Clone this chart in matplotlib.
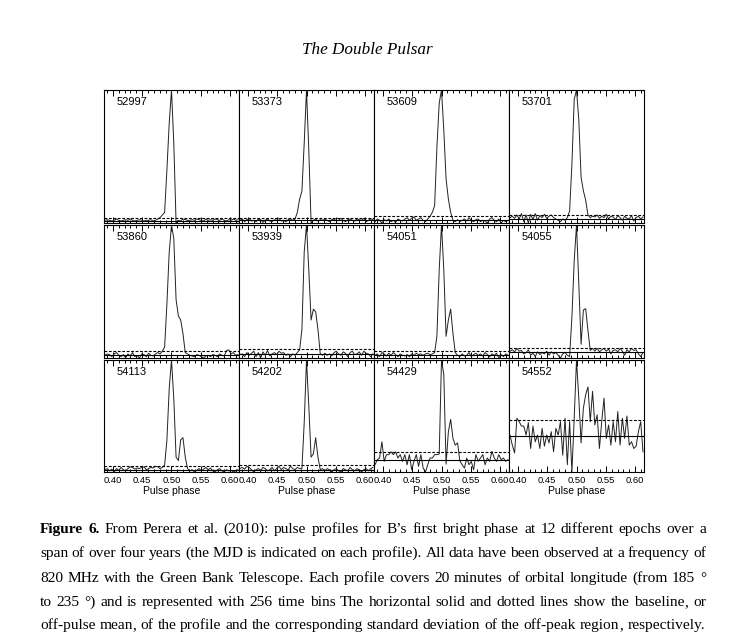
import numpy as np
import matplotlib.pyplot as plt
from matplotlib.ticker import MultipleLocator, FormatStrFormatter

# phase bins shown in every panel (256 bins per turn, bins 99..157)
bins = np.arange(99, 158)
phase = bins / 256.0

mjd = ['52997', '53373', '53609', '53701',
       '53860', '53939', '54051', '54055',
       '54113', '54202', '54429', '54552']

# profiles, normalised to the peak
p52997 = [0.02, 0.025, 0.02, 0.015, 0.02, 0.03, 0.02, 0.015, 0.02, 0.025, 0.02, 0.03,
          0.02, 0.015, 0.02, 0.025, 0.02, 0.015, 0.02, 0.02, 0.025, 0.015, 0.02, 0.03,
          0.04, 0.06, 0.08, 0.40, 0.75, 1.0, 0.60, 0.0, 0.02, 0.015, 0.03, 0.025, 0.02,
          0.02, 0.025, 0.02, 0.03, 0.025, 0.02, 0.015, 0.03, 0.02, 0.025, 0.02, 0.03,
          0.025, 0.02, 0.03, 0.02, 0.015, 0.025, 0.02, 0.03, 0.02, 0.025]
p53373 = [0.02, 0.03, 0.01, 0.025, 0.035, 0.015, 0.02, 0.01, 0.03, 0.025, 0.005, 0.02,
          0.03, 0.015, 0.01, 0.025, 0.02, 0.035, 0.015, 0.02, 0.01, 0.025, 0.03, 0.02,
          0.03, 0.08, 0.18, 0.24, 0.60, 1.0, 0.55, 0.0, 0.02, 0.03, 0.015, 0.025, 0.02,
          0.03, 0.02, 0.01, 0.025, 0.03, 0.015, 0.02, 0.035, 0.02, 0.01, 0.025, 0.03,
          0.02, 0.015, 0.03, 0.025, 0.02, 0.035, 0.01, 0.02, 0.03, 0.025]
p53609 = [0.01, 0.03, 0.02, 0.0, 0.025, 0.015, 0.03, 0.01, 0.02, 0.005, 0.03, 0.02,
          0.015, 0.03, 0.04, 0.02, 0.035, 0.045, 0.02, 0.03, 0.04, 0.02, 0.01, 0.03,
          0.05, 0.08, 0.13, 0.57, 0.90, 1.0, 0.70, 0.33, 0.18, 0.08, 0.02, 0.01, 0.025,
          0.01, 0.02, 0.03, 0.015, 0.04, 0.02, 0.01, 0.025, 0.03, 0.01, 0.02, 0.015,
          0.0, 0.03, 0.04, 0.02, 0.01, 0.03, 0.0, 0.02, 0.01, 0.02]
p53701 = [0.05, 0.06, 0.045, 0.07, 0.04, 0.08, 0.02, 0.07, 0.01, 0.075, 0.035, 0.08,
          0.03, 0.065, 0.05, 0.075, 0.045, 0.06, 0.07, 0.05, 0.04, 0.03, 0.02, 0.04,
          0.03, 0.05, 0.10, 0.45, 0.93, 1.0, 0.78, 0.35, 0.25, 0.18, 0.07, 0.05, 0.06,
          0.055, 0.07, 0.045, 0.06, 0.05, 0.075, 0.04, 0.06, 0.055, 0.035, 0.065, 0.05,
          0.03, 0.06, 0.045, 0.04, 0.065, 0.025, 0.05, 0.06, 0.04, 0.055]
p53860 = [0.04, 0.05, 0.045, 0.03, 0.05, 0.06, 0.04, 0.03, 0.045, 0.02, 0.05, 0.035,
          0.06, 0.03, 0.04, 0.02, 0.05, 0.045, 0.03, 0.055, 0.04, 0.035, 0.05, 0.06,
          0.05, 0.07, 0.10, 0.42, 0.80, 1.0, 0.90, 0.45, 0.33, 0.30, 0.20, 0.06, 0.05,
          0.04, 0.035, 0.03, 0.045, 0.04, 0.03, 0.02, 0.035, 0.04, 0.03, 0.045, 0.04,
          0.03, 0.05, 0.04, 0.035, 0.075, 0.08, 0.05, 0.06, 0.04, 0.045]
p53939 = [0.045, 0.05, 0.03, 0.06, 0.04, 0.055, 0.07, 0.03, 0.06, 0.02, 0.065, 0.04,
          0.075, 0.035, 0.05, 0.06, 0.045, 0.07, 0.055, 0.06, 0.04, 0.05, 0.03, 0.05,
          0.04, 0.06, 0.08, 0.23, 0.80, 1.0, 0.67, 0.30, 0.38, 0.36, 0.23, 0.05, 0.04,
          0.055, 0.04, 0.05, 0.035, 0.06, 0.07, 0.05, 0.04, 0.065, 0.055, 0.03, 0.06,
          0.07, 0.045, 0.05, 0.065, 0.04, 0.07, 0.055, 0.05, 0.03, 0.05]
p54051 = [0.04, 0.05, 0.03, 0.06, 0.05, 0.035, 0.055, 0.04, 0.06, 0.045, 0.03, 0.05,
          0.04, 0.035, 0.045, 0.03, 0.05, 0.04, 0.055, 0.045, 0.05, 0.04, 0.05, 0.055,
          0.045, 0.05, 0.06, 0.18, 0.67, 1.0, 0.67, 0.18, 0.30, 0.38, 0.20, 0.06, 0.04,
          0.03, 0.05, 0.035, 0.04, 0.06, 0.03, 0.045, 0.055, 0.04, 0.05, 0.035, 0.06,
          0.045, 0.03, 0.05, 0.04, 0.055, 0.02, 0.045, 0.03, 0.05, 0.04]
p54055 = [0.08, 0.09, 0.075, 0.1, 0.08, 0.085, 0.06, 0.07, 0.09, 0.05, 0.065, 0.04,
          0.075, 0.055, 0.07, 0.06, 0.08, 0.05, 0.075, 0.06, 0.07, 0.05, 0.03, 0.06,
          0.07, 0.05, 0.04, 0.33, 0.74, 1.0, 0.57, 0.13, 0.38, 0.39, 0.23, 0.085, 0.1,
          0.08, 0.1, 0.075, 0.09, 0.1, 0.08, 0.095, 0.06, 0.085, 0.09, 0.075, 0.1,
          0.08, 0.05, 0.09, 0.075, 0.1, 0.085, 0.09, 0.06, 0.04, 0.07]
p54113 = [0.04, 0.05, 0.03, 0.045, 0.02, 0.05, 0.035, 0.06, 0.04, 0.03, 0.05, 0.065,
          0.06, 0.045, 0.055, 0.05, 0.06, 0.065, 0.04, 0.05, 0.06, 0.055, 0.07, 0.065,
          0.05, 0.06, 0.08, 0.30, 0.75, 1.0, 0.66, 0.15, 0.12, 0.30, 0.32, 0.15, 0.05,
          0.03, 0.04, 0.02, 0.035, 0.05, 0.03, 0.045, 0.06, 0.04, 0.055, 0.03, 0.02,
          0.04, 0.05, 0.03, 0.02, 0.04, 0.03, 0.035, 0.02, 0.03, 0.04]
p54202 = [0.05, 0.06, 0.045, 0.07, 0.06, 0.04, 0.02, 0.04, 0.05, 0.03, 0.06, 0.05,
          0.03, 0.04, 0.06, 0.03, 0.05, 0.07, 0.04, 0.06, 0.05, 0.04, 0.07, 0.05,
          0.04, 0.06, 0.05, 0.05, 0.45, 1.0, 0.60, 0.15, 0.18, 0.32, 0.15, 0.04, 0.05,
          0.03, 0.05, 0.04, 0.02, 0.04, 0.05, 0.03, 0.02, 0.05, 0.04, 0.03, 0.06,
          0.04, 0.03, 0.05, 0.04, 0.02, 0.04, 0.05, 0.03, 0.05, 0.06]
p54429 = [0.065, 0.11, 0.125, 0.27, 0.095, 0.155, 0.155, 0.18, 0.155, 0.18, 0.125, 0.155,
          0.095, 0.155, 0.065, 0.155, 0.02, 0.095, 0.155, 0.05, 0.155, 0.035, 0.0, 0.065,
          0.125, 0.125, 0.155, 0.155, 0.16, 1.0, 0.87, 0.07, 0.36, 0.47, 0.30, 0.24, 0.26,
          0.10, 0.065, 0.035, 0.125, 0.065, 0.095, 0.02, 0.155, 0.095, 0.125, 0.155, 0.065,
          0.125, 0.095, 0.185, 0.125, 0.095, 0.155, 0.11, 0.125, 0.095, 0.11]
p54552 = [0.33, 0.24, 0.17, 0.48, 0.45, 0.41, 0.41, 0.33, 0.44, 0.21, 0.41, 0.27,
          0.33, 0.21, 0.39, 0.23, 0.33, 0.26, 0.36, 0.18, 0.39, 0.33, 0.45, 0.15,
          0.48, 0.065, 0.45, 0.0, 0.48, 1.0, 0.66, 0.26, 0.57, 0.69, 0.76, 0.45, 0.72,
          0.42, 0.51, 0.21, 0.45, 0.66, 0.30, 0.42, 0.24, 0.45, 0.27, 0.54, 0.24,
          0.48, 0.30, 0.50, 0.24, 0.27, 0.21, 0.23, 0.36, 0.45, 0.18]

profiles = [p52997, p53373, p53609, p53701, p53860, p53939,
            p54051, p54055, p54113, p54202, p54429, p54552]

# off-pulse mean (solid) and mean + std of the off-peak region (dotted)
base_mean = [0.017, 0.02, 0.025, 0.042, 0.04, 0.05, 0.04, 0.073, 0.036, 0.04, 0.11, 0.32]
base_sig = [0.035, 0.037, 0.055, 0.072, 0.068, 0.085, 0.068, 0.105, 0.074, 0.08, 0.18, 0.46]

caption = [
    "Figure 6. From Perera et al. (2010): pulse profiles for B\u2019s first bright phase at 12 different epochs over a",
    "span of over four years (the MJD is indicated on each profile). All data have been observed at a frequency of",
    "820 MHz with the Green Bank Telescope. Each profile covers 20 minutes of orbital longitude (from 185 \u00b0",
    "to 235 \u00b0) and is represented with 256 time bins The horizontal solid and dotted lines show the baseline, or",
    "off-pulse mean, of the profile and the corresponding standard deviation of the off-peak region, respectively.",
]

W, H = 755, 635
fig = plt.figure(figsize=(W / 100, H / 100), dpi=100)
fig.patch.set_facecolor('white')

# panel grid in pixels
col_x = [104, 239, 374, 509]
col_w = 135
rows = [(90, 223), (225, 358), (360, 472)]

for k in range(12):
    r, c = divmod(k, 4)
    top, bot = rows[r]
    ax = fig.add_axes([col_x[c] / W, 1 - bot / H, col_w / W, (bot - top) / H])
    y = np.array(profiles[k])
    ax.plot(phase, y, color='#222222', lw=0.7)
    ax.axhline(base_mean[k], color='black', lw=0.8)
    ax.axhline(base_sig[k], color='black', lw=0.8, ls=(0, (2.5, 1.5)))
    ax.set_xlim(0.385, 0.615)
    ax.set_ylim(y.min(), y.max())
    ax.set_yticks([])
    ax.xaxis.set_major_locator(MultipleLocator(0.05))
    ax.xaxis.set_minor_locator(MultipleLocator(0.01))
    ax.xaxis.set_major_formatter(FormatStrFormatter('%.2f'))
    ax.tick_params(axis='x', which='major', direction='in', top=True, bottom=True,
                   length=4, width=0.7, labelsize=6.8, pad=3)
    ax.tick_params(axis='x', which='minor', direction='in', top=True, bottom=True,
                   length=2.5, width=0.7)
    for sp in ax.spines.values():
        sp.set_linewidth(0.8)
    if r < 2:
        ax.tick_params(axis='x', labelbottom=False)
    else:
        for lab in ax.get_xticklabels():
            lab.set_family('Liberation Sans')
        ax.set_xlabel('Pulse phase', fontsize=7.5, family='Liberation Sans', labelpad=0.5)
    ax.text(13 / col_w, 1 - 12 / (bot - top), mjd[k], transform=ax.transAxes,
            fontsize=8, family='Liberation Sans', va='center', ha='left')

# running head
fig.text(367 / W, 1 - 50 / H, 'The Double Pulsar', fontsize=12.3, style='italic',
         family='Liberation Serif', ha='center', va='center')

# caption, justified between x0 and x1 (wider than the panel grid)
renderer = fig.canvas.get_renderer()
x0, x1 = 40, 706
probe = fig.text(0, 0, caption[-1], fontsize=10, family='Liberation Serif')
size = 10 * 662 / probe.get_window_extent(renderer).width
probe.remove()
sp_probe = fig.text(0, 0, 'a a', fontsize=size, family='Liberation Serif')
sp2 = fig.text(0, 0, 'aa', fontsize=size, family='Liberation Serif')
space_w = sp_probe.get_window_extent(renderer).width - sp2.get_window_extent(renderer).width
sp_probe.remove()
sp2.remove()


def word_pieces(wd, yfig, bold):
    # a trailing comma gets its own text so the word itself is not pushed
    # down by the comma's descent when rasterised
    parts = [wd[:-1], ','] if (wd.endswith(',') and len(wd) > 1) else [wd]
    arts = [fig.text(0, yfig, p, fontsize=size, family='Liberation Serif',
                     weight='bold' if bold else 'normal', va='baseline') for p in parts]
    ws = [a.get_window_extent(renderer).width for a in arts]
    return arts, ws


line_y = [533, 557, 582, 606, 629]
for n, line in enumerate(caption):
    words = line.split(' ')
    groups = [word_pieces(wd, 1 - line_y[n] / H, n == 0 and j < 2)
              for j, wd in enumerate(words)]
    total = sum(sum(ws) for _, ws in groups)
    if n < len(caption) - 1:
        gap = (x1 - x0 - total) / (len(words) - 1)
    else:
        gap = space_w
    x = x0
    for arts, ws in groups:
        for a, wdt in zip(arts, ws):
            a.set_x(x / W)
            x += wdt
        x += gap

fig.savefig('out.png', dpi=100, facecolor='white')
